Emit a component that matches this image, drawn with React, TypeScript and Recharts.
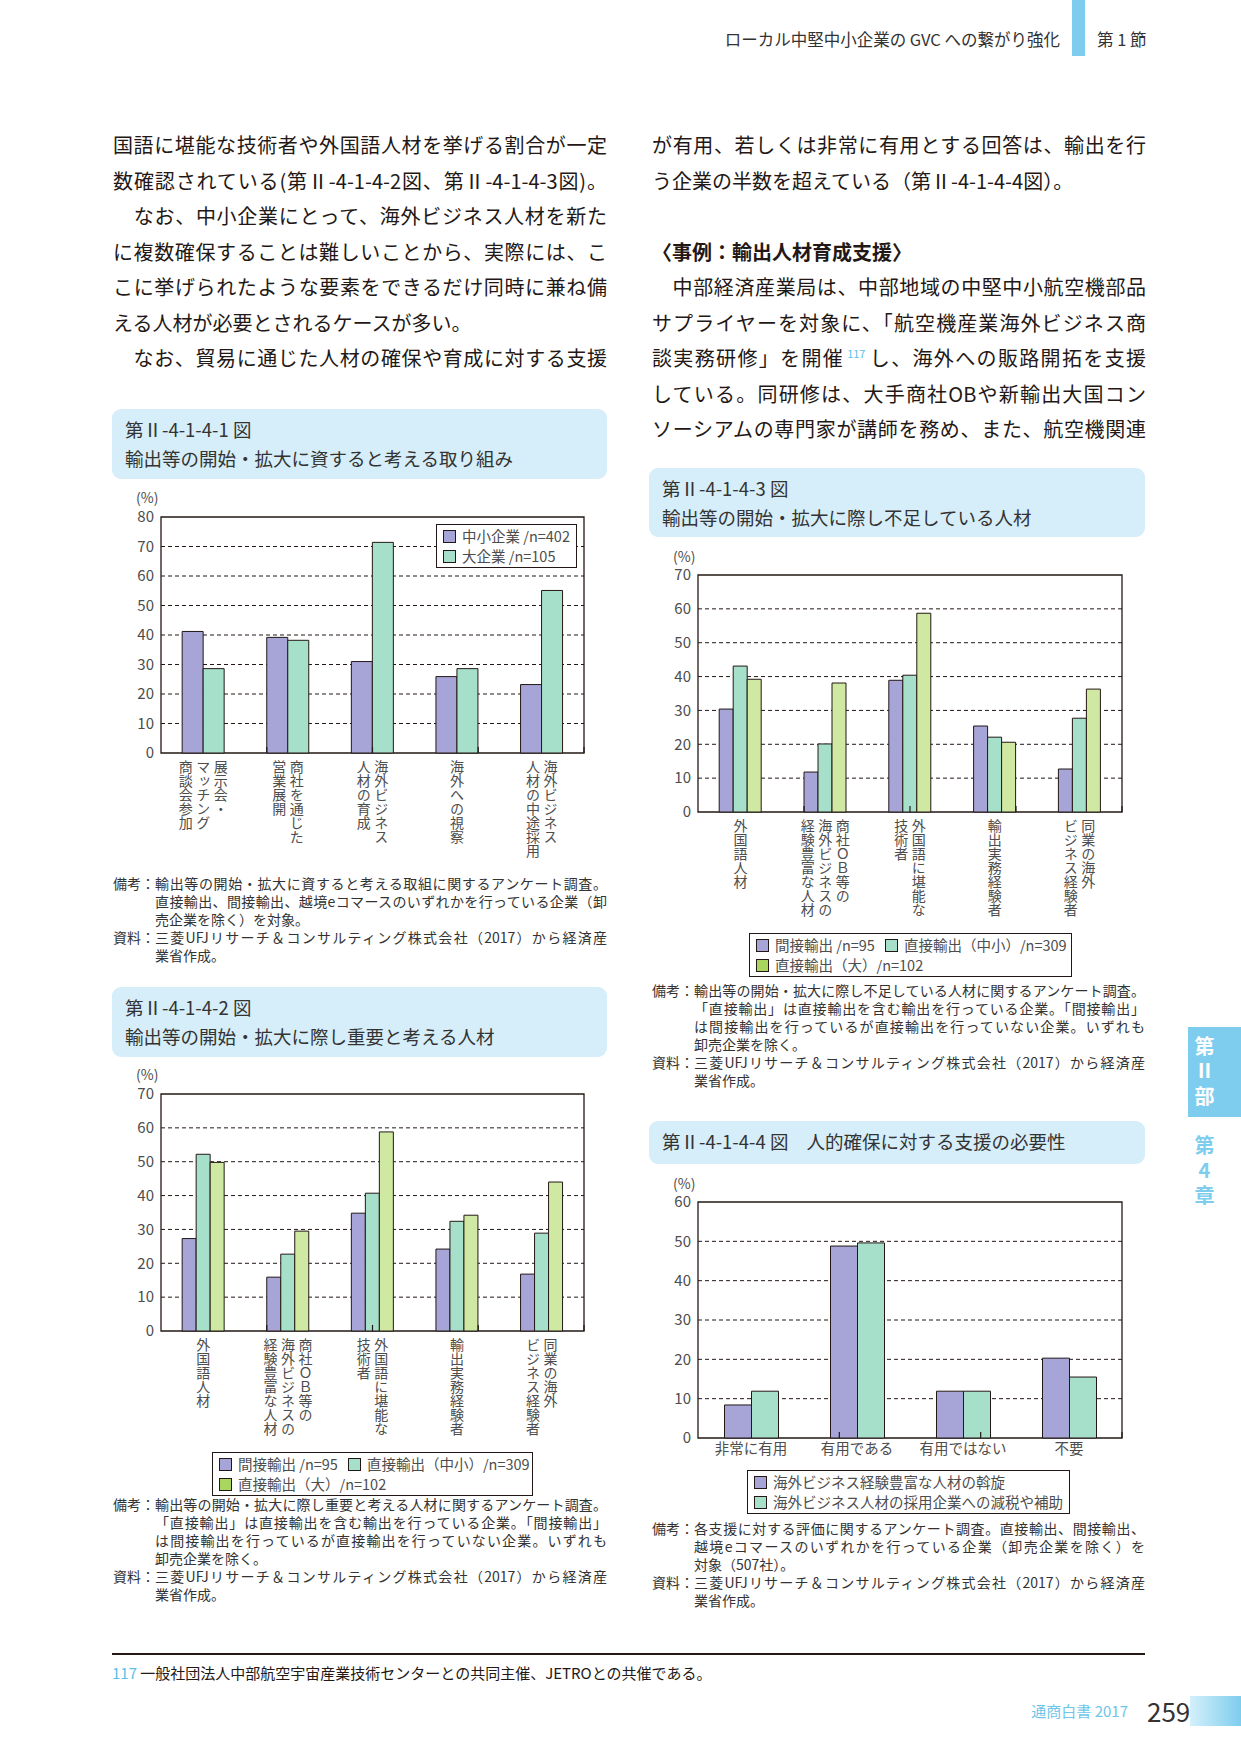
import React from 'react';
import {
  BarChart,
  Bar,
  XAxis,
  YAxis,
  CartesianGrid,
  ReferenceLine,
  ReferenceArea,
  Legend,
} from 'recharts';

const FONT = "'Noto Sans CJK JP', 'Noto Sans', sans-serif";
const INK = '#231815';
const GRAY = '#4d4d4d';
const PURPLE = '#a7a5d7';
const MINT = '#a6dfca';
const LIME = '#cfe9a2';
const LIME_KEY = '#a8d65e';
const BLUE = '#7ecdee';

// 第Ⅱ-4-1-4-1 図
const fig1Columns = [
  ['展示会・', 'マッチング', '商談会参加'],
  ['商社を通じた', '営業展開'],
  ['海外ビジネス', '人材の育成'],
  ['海外への視察'],
  ['海外ビジネス', '人材の中途採用'],
];
const fig1Categories = fig1Columns.map((c) => c.join(''));
const fig1Sme = [41.2, 39.2, 31.0, 25.9, 23.2];
const fig1Large = [28.6, 38.2, 71.4, 28.6, 55.1];
const fig1Ticks = [0, 10, 20, 30, 40, 50, 60, 70, 80];

// 第Ⅱ-4-1-4-2 図 / 第Ⅱ-4-1-4-3 図 (same categories)
const personColumns = [
  ['外国語人材'],
  ['商社ＯＢ等の', '海外ビジネスの', '経験豊富な人材'],
  ['外国語に堪能な', '技術者'],
  ['輸出実務経験者'],
  ['同業の海外', 'ビジネス経験者'],
];
const personCategories = personColumns.map((c) => c.join(''));
const fig2Indirect = [27.3, 15.9, 34.8, 24.2, 16.8];
const fig2DirectSme = [52.2, 22.7, 40.7, 32.4, 28.9];
const fig2DirectLarge = [49.8, 29.5, 58.8, 34.2, 44.0];
const fig2Ticks = [0, 10, 20, 30, 40, 50, 60, 70];

const fig3Indirect = [30.4, 11.8, 38.9, 25.4, 12.7];
const fig3DirectSme = [43.1, 20.1, 40.4, 22.1, 27.7];
const fig3DirectLarge = [39.2, 38.1, 58.7, 20.6, 36.3];
const fig3Ticks = [0, 10, 20, 30, 40, 50, 60, 70];

// 第Ⅱ-4-1-4-4 図
const fig4Categories = ['非常に有用', '有用である', '有用ではない', '不要'];
const fig4Referral = [8.4, 48.8, 11.9, 20.3];
const fig4TaxCut = [11.9, 49.6, 11.9, 15.5];
const fig4Ticks = [0, 10, 20, 30, 40, 50, 60];

type SeriesDef = { name: string; values: number[]; fill: string; key: string };

type ChartProps = {
  categories: string[];
  columns?: string[][];
  series: SeriesDef[];
  ticks: number[];
  box: { left: number; top: number; width: number; height: number };
  margin: { top: number; right: number; bottom: number; left: number };
  axisHeight: number;
  legend: { left: number; top: number; width: number; rows: number[][] };
  edgeLen: number;
};

function GroupedBars({ categories, columns, series, ticks, box, margin, axisHeight, legend, edgeLen }: ChartProps) {
  const yMax = ticks[ticks.length - 1];
  const rows = categories.map((name, i) => {
    const row: Record<string, string | number> = { name };
    series.forEach((s, j) => {
      row['s' + j] = s.values[i];
    });
    return row;
  });
  const gridValues = ticks.filter((t) => t > 0 && t < yMax);
  const edges = categories.slice(1).map((_, i) => i + 1);

  const renderTick = (p: any) => {
    if (!columns) {
      return (
        <text x={p.x} y={p.y} dy={12} textAnchor="middle" fontSize={14.5} fill={GRAY} fontFamily={FONT}>
          {p.payload.value}
        </text>
      );
    }
    const cols = columns[p.index] || [];
    const n = cols.length;
    return (
      <g>
        {cols.map((c, k) => (
          <text
            key={k}
            x={p.x + ((n - 1) / 2 - k) * 17.5}
            y={p.y}
            fontSize={14}
            fill={GRAY}
            fontFamily={FONT}
            style={{ writingMode: 'vertical-rl' }}
          >
            {c}
          </text>
        ))}
      </g>
    );
  };

  const legendContent = () => (
    <div
      style={{
        border: `1.5px solid ${INK}`,
        background: '#fff',
        padding: '1px 6px',
        boxSizing: 'border-box',
        width: legend.width,
        fontFamily: FONT,
        fontSize: 14.5,
        color: GRAY,
        lineHeight: '20px',
      }}
    >
      {legend.rows.map((r, i) => (
        <div key={i} style={{ display: 'flex', gap: 10, whiteSpace: 'nowrap' }}>
          {r.map((j) => (
            <span key={j} style={{ display: 'flex', alignItems: 'center' }}>
              <span
                style={{
                  width: 11,
                  height: 11,
                  border: `1px solid ${INK}`,
                  background: series[j].key,
                  marginRight: 6,
                  display: 'inline-block',
                }}
              />
              {series[j].name}
            </span>
          ))}
        </div>
      ))}
    </div>
  );

  return (
    <div style={{ position: 'absolute', left: box.left, top: box.top }}>
      <BarChart
        width={box.width}
        height={box.height}
        data={rows}
        margin={margin}
        barGap={0}
        barCategoryGap="25%"
      >
        <CartesianGrid vertical={false} horizontalValues={gridValues} stroke={INK} strokeDasharray="4 3" strokeWidth={1} />
        <XAxis
          dataKey="name"
          interval={0}
          axisLine={false}
          tickLine={false}
          tickSize={0}
          tickMargin={columns ? 7 : 4}
          height={axisHeight}
          tick={renderTick}
        />
        <XAxis xAxisId="edge" type="number" domain={[0, categories.length]} hide allowDataOverflow />
        <YAxis
          domain={[0, yMax]}
          ticks={ticks}
          interval={0}
          width={40}
          axisLine={false}
          tickLine={false}
          tickSize={0}
          tickMargin={7}
          tick={{ fontSize: 15, fill: GRAY, fontFamily: FONT }}
        />
        <Legend
          layout="vertical"
          align="center"
          verticalAlign="middle"
          wrapperStyle={{ left: legend.left, top: legend.top, width: legend.width, height: 'auto' }}
          content={legendContent}
        />
        {series.map((s, j) => (
          <Bar
            key={j}
            dataKey={'s' + j}
            name={s.name}
            fill={s.fill}
            stroke={INK}
            strokeWidth={1}
            isAnimationActive={false}
          />
        ))}
        {edges.map((e) => (
          <ReferenceLine
            key={e}
            xAxisId="edge"
            segment={[{ x: e, y: 0 }, { x: e, y: edgeLen }]}
            stroke={INK}
            strokeWidth={1.2}
          />
        ))}
        <ReferenceArea y1={0} y2={yMax} fill="none" stroke={INK} strokeWidth={1.3} ifOverflow="visible" />
      </BarChart>
    </div>
  );
}

const TitleBox = ({ left, top, width, height, children }: any) => (
  <div
    style={{
      position: 'absolute',
      left,
      top,
      width,
      height,
      background: '#d6eef9',
      borderRadius: 9,
      padding: '6px 13px',
      boxSizing: 'border-box',
      fontFamily: FONT,
      fontSize: 18.5,
      lineHeight: '29px',
      color: '#333',
    }}
  >
    {children}
  </div>
);

type NoteLine = { label?: string; text: string; full?: boolean };

const Notes = ({ left, top, width, lines }: { left: number; top: number; width: number; lines: NoteLine[] }) => (
  <div style={{ position: 'absolute', left, top, width, fontFamily: FONT, fontSize: 14, lineHeight: '18px', color: '#333' }}>
    {lines.map((l, i) => (
      <div key={i} style={{ display: 'flex', height: 18 }}>
        <span style={{ width: 42, flex: 'none', whiteSpace: 'nowrap' }}>{l.label || ''}</span>
        <span style={{ flex: 1, textAlign: l.full ? 'justify' : 'left', textAlignLast: l.full ? 'justify' : 'auto' }}>
          {l.text}
        </span>
      </div>
    ))}
  </div>
);

const BodyLine = ({ left, center, full, bold, children }: any) => (
  <div
    style={{
      position: 'absolute',
      left,
      top: center - 18,
      width: 494,
      height: 36,
      lineHeight: '36px',
      fontSize: 20,
      fontWeight: bold ? 700 : 400,
      fontFamily: FONT,
      color: INK,
      textAlign: full ? 'justify' : 'left',
      textAlignLast: full ? 'justify' : 'auto',
    }}
  >
    {children}
  </div>
);

const Unit = ({ left, center }: { left: number; center: number }) => (
  <div style={{ position: 'absolute', left, top: center - 8, fontFamily: FONT, fontSize: 14, lineHeight: '16px', color: GRAY }}>
    (%)
  </div>
);

const TabText = ({ top, color, children }: any) => (
  <div
    style={{
      position: 'absolute',
      left: 1193,
      top,
      width: 22,
      writingMode: 'vertical-rl',
      textOrientation: 'upright',
      fontSize: 20,
      lineHeight: '22px',
      letterSpacing: 5,
      color,
      fontWeight: 700,
    }}
  >
    {children}
  </div>
);

const source = '三菱UFJリサーチ＆コンサルティング株式会社（2017）から経済産';

const notes1: NoteLine[] = [
  { label: '備考：', text: '輸出等の開始・拡大に資すると考える取組に関するアンケート調査。', full: true },
  { text: '直接輸出、間接輸出、越境eコマースのいずれかを行っている企業（卸', full: true },
  { text: '売企業を除く）を対象。' },
  { label: '資料：', text: source, full: true },
  { text: '業省作成。' },
];
const notesCommon: NoteLine[] = [
  { text: '「直接輸出」は直接輸出を含む輸出を行っている企業。「間接輸出」', full: true },
  { text: 'は間接輸出を行っているが直接輸出を行っていない企業。いずれも', full: true },
  { text: '卸売企業を除く。' },
  { label: '資料：', text: source, full: true },
  { text: '業省作成。' },
];
const notes2: NoteLine[] = [
  { label: '備考：', text: '輸出等の開始・拡大に際し重要と考える人材に関するアンケート調査。', full: true },
  ...notesCommon,
];
const notes3: NoteLine[] = [
  { label: '備考：', text: '輸出等の開始・拡大に際し不足している人材に関するアンケート調査。', full: true },
  ...notesCommon,
];
const notes4: NoteLine[] = [
  { label: '備考：', text: '各支援に対する評価に関するアンケート調査。直接輸出、間接輸出、', full: true },
  { text: '越境eコマースのいずれかを行っている企業（卸売企業を除く）を', full: true },
  { text: '対象（507社）。' },
  { label: '資料：', text: source, full: true },
  { text: '業省作成。' },
];

const fig23Series = (a: number[], b: number[], c: number[]): SeriesDef[] => [
  { name: '間接輸出 /n=95', values: a, fill: PURPLE, key: PURPLE },
  { name: '直接輸出（中小）/n=309', values: b, fill: MINT, key: MINT },
  { name: '直接輸出（大）/n=102', values: c, fill: LIME, key: LIME_KEY },
];

export default function App() {
  const L = 113;
  const R = 652;
  const step = 35.5;
  return (
    <div style={{ position: 'absolute', left: 0, top: 0, width: 1241, height: 1754, background: '#fff', overflow: 'hidden', fontFamily: FONT }}>
      {/* header */}
      <div style={{ position: 'absolute', right: 1241 - 1060, top: 28, fontSize: 16.5, lineHeight: '22px', color: '#333' }}>
        ローカル中堅中小企業の GVC への繋がり強化
      </div>
      <div style={{ position: 'absolute', left: 1072, top: 0, width: 13, height: 56, background: BLUE }} />
      <div style={{ position: 'absolute', left: 1097, top: 28, fontSize: 16.5, lineHeight: '22px', color: '#333' }}>第 1 節</div>

      {/* left column body */}
      <BodyLine left={L} center={145} full>国語に堪能な技術者や外国語人材を挙げる割合が一定</BodyLine>
      <BodyLine left={L} center={145 + step} full>数確認されている(第Ⅱ-4-1-4-2図、第Ⅱ-4-1-4-3図)。</BodyLine>
      <BodyLine left={L} center={145 + step * 2} full>　なお、中小企業にとって、海外ビジネス人材を新た</BodyLine>
      <BodyLine left={L} center={145 + step * 3} full>に複数確保することは難しいことから、実際には、こ</BodyLine>
      <BodyLine left={L} center={145 + step * 4} full>こに挙げられたような要素をできるだけ同時に兼ね備</BodyLine>
      <BodyLine left={L} center={145 + step * 5}>える人材が必要とされるケースが多い。</BodyLine>
      <BodyLine left={L} center={145 + step * 6} full>　なお、貿易に通じた人材の確保や育成に対する支援</BodyLine>

      {/* right column body */}
      <BodyLine left={R} center={145} full>が有用、若しくは非常に有用とする回答は、輸出を行</BodyLine>
      <BodyLine left={R} center={145 + step}>う企業の半数を超えている（第Ⅱ-4-1-4-4図）。</BodyLine>
      <BodyLine left={R} center={145 + step * 3} bold>〈事例：輸出人材育成支援〉</BodyLine>
      <BodyLine left={R} center={145 + step * 4} full>　中部経済産業局は、中部地域の中堅中小航空機部品</BodyLine>
      <BodyLine left={R} center={145 + step * 5} full>サプライヤーを対象に、「航空機産業海外ビジネス商</BodyLine>
      <BodyLine left={R} center={145 + step * 6} full>
        談実務研修」を開催
        <span style={{ color: '#5bc0e8', fontSize: 11, lineHeight: 0, position: 'relative', top: -8, margin: '0 3px' }}>117</span>
        し、海外への販路開拓を支援
      </BodyLine>
      <BodyLine left={R} center={145 + step * 7} full>している。同研修は、大手商社OBや新輸出大国コン</BodyLine>
      <BodyLine left={R} center={145 + step * 8} full>ソーシアムの専門家が講師を務め、また、航空機関連</BodyLine>

      {/* figure 1 */}
      <TitleBox left={112} top={409} width={495} height={70}>
        <div>第Ⅱ-4-1-4-1 図</div>
        <div>輸出等の開始・拡大に資すると考える取り組み</div>
      </TitleBox>
      <Unit left={136} center={497} />
      <GroupedBars
        categories={fig1Categories}
        columns={fig1Columns}
        series={[
          { name: '中小企業 /n=402', values: fig1Sme, fill: PURPLE, key: PURPLE },
          { name: '大企業 /n=105', values: fig1Large, fill: MINT, key: MINT },
        ]}
        ticks={fig1Ticks}
        box={{ left: 100, top: 490, width: 500, height: 380 }}
        margin={{ top: 27, right: 16, bottom: 7, left: 21 }}
        axisHeight={110}
        legend={{ left: 336, top: 34, width: 141, rows: [[0], [1]] }}
        edgeLen={2}
      />
      <Notes left={113} top={874} width={494} lines={notes1} />

      {/* figure 2 */}
      <TitleBox left={112} top={987} width={495} height={70}>
        <div>第Ⅱ-4-1-4-2 図</div>
        <div>輸出等の開始・拡大に際し重要と考える人材</div>
      </TitleBox>
      <Unit left={136} center={1074} />
      <GroupedBars
        categories={personCategories}
        columns={personColumns}
        series={fig23Series(fig2Indirect, fig2DirectSme, fig2DirectLarge)}
        ticks={fig2Ticks}
        box={{ left: 100, top: 1070, width: 500, height: 440 }}
        margin={{ top: 24, right: 16, bottom: 59, left: 21 }}
        axisHeight={120}
        legend={{ left: 112, top: 382, width: 321, rows: [[0, 1], [2]] }}
        edgeLen={1.8}
      />
      <Notes left={113} top={1495} width={494} lines={notes2} />

      {/* figure 3 */}
      <TitleBox left={649} top={468} width={496} height={69}>
        <div>第Ⅱ-4-1-4-3 図</div>
        <div>輸出等の開始・拡大に際し不足している人材</div>
      </TitleBox>
      <Unit left={673} center={556} />
      <GroupedBars
        categories={personCategories}
        columns={personColumns}
        series={fig23Series(fig3Indirect, fig3DirectSme, fig3DirectLarge)}
        ticks={fig3Ticks}
        box={{ left: 637, top: 550, width: 501, height: 440 }}
        margin={{ top: 25, right: 16, bottom: 58, left: 21 }}
        axisHeight={120}
        legend={{ left: 112, top: 383, width: 323, rows: [[0, 1], [2]] }}
        edgeLen={1.8}
      />
      <Notes left={652} top={981} width={493} lines={notes3} />

      {/* figure 4 */}
      <TitleBox left={649} top={1121} width={496} height={43}>
        <div>
          第Ⅱ-4-1-4-4 図<span style={{ marginLeft: 18 }}>人的確保に対する支援の必要性</span>
        </div>
      </TitleBox>
      <Unit left={673} center={1183} />
      <GroupedBars
        categories={fig4Categories}
        series={[
          { name: '海外ビジネス経験豊富な人材の斡旋', values: fig4Referral, fill: PURPLE, key: PURPLE },
          { name: '海外ビジネス人材の採用企業への減税や補助', values: fig4TaxCut, fill: MINT, key: MINT },
        ]}
        ticks={fig4Ticks}
        box={{ left: 637, top: 1175, width: 501, height: 345 }}
        margin={{ top: 27, right: 16, bottom: 52, left: 21 }}
        axisHeight={30}
        legend={{ left: 110, top: 295, width: 323, rows: [[0], [1]] }}
        edgeLen={1.5}
      />
      <Notes left={652} top={1519} width={493} lines={notes4} />

      {/* side tab */}
      <div style={{ position: 'absolute', left: 1188, top: 1027, width: 53, height: 90, background: BLUE }} />
      <TabText top={1036} color="#fff">第Ⅱ部</TabText>
      <TabText top={1135} color={BLUE}>第4章</TabText>

      {/* footer */}
      <div style={{ position: 'absolute', left: 112, top: 1653, width: 1033, height: 2, background: INK }} />
      <div style={{ position: 'absolute', left: 112, top: 1662, fontSize: 15, lineHeight: '22px', color: INK }}>
        <span style={{ color: '#5bc0e8' }}>117</span> 一般社団法人中部航空宇宙産業技術センターとの共同主催、JETROとの共催である。
      </div>
      <div style={{ position: 'absolute', right: 1241 - 1128, top: 1700, fontSize: 15, lineHeight: '22px', color: '#6ec6ea' }}>
        通商白書 2017
      </div>
      <div style={{ position: 'absolute', left: 1147, top: 1695, fontSize: 26, lineHeight: '32px', color: '#333' }}>259</div>
      <div style={{ position: 'absolute', left: 1190, top: 1696, width: 51, height: 30, background: 'linear-gradient(to right, #d4f0fb, #7ecdee)' }} />
    </div>
  );
}
